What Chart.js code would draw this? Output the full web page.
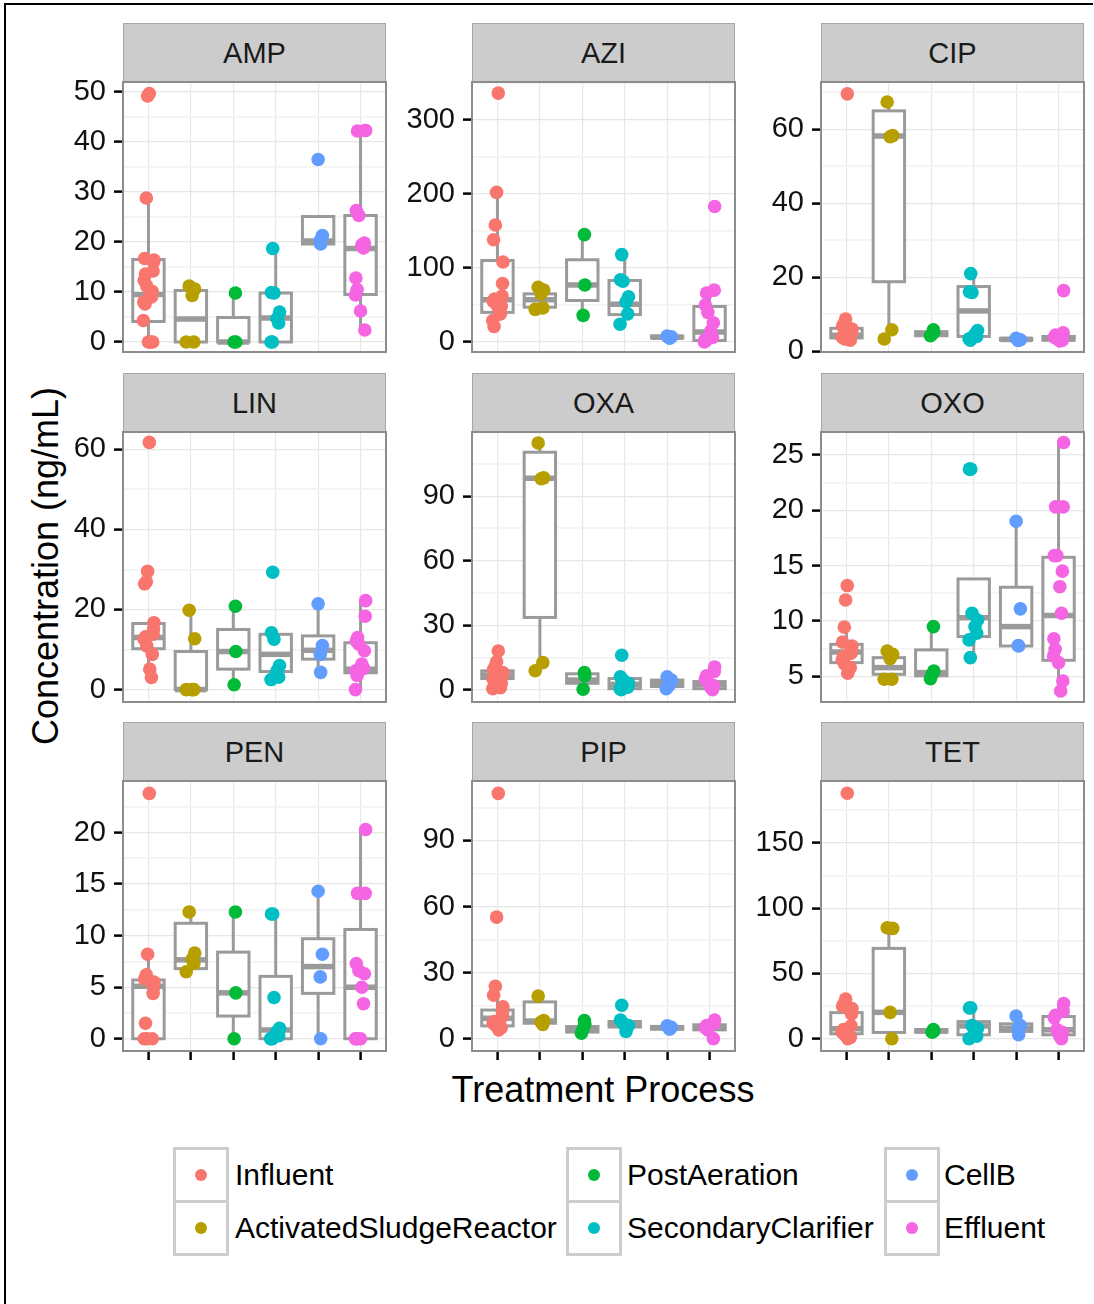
<!DOCTYPE html>
<html>
<head>
<meta charset="utf-8">
<script src="https://cdn.jsdelivr.net/npm/chart.js@4.4.1/dist/chart.umd.min.js"></script>
<style>
  html, body { margin: 0; padding: 0; background: #fff; }
  body { width: 1094px; height: 1304px; position: relative; overflow: hidden;
         font-family: "Liberation Sans", Arial, sans-serif; color: #111; }
  #frameTop { position: absolute; left: 4px; top: 3px; width: 1089px; height: 2px; background: #000; }
  #frameLeft { position: absolute; left: 4px; top: 3px; width: 2px; height: 1301px; background: #000; }
  .strip { position: absolute; background: #cccccc; border: 1px solid #a6a6a6; box-sizing: border-box;
           text-align: center; font-size: 29px; color: #1a1a1a; }
  canvas { position: absolute; }
  #ytitle { position: absolute; left: 46px; top: 566px; transform: translate(-50%, -50%) rotate(-90deg);
            white-space: nowrap; font-size: 36px; color: #000; }
  #xtitle { position: absolute; left: 603px; top: 1090px; transform: translate(-50%, -50%);
            white-space: nowrap; font-size: 36px; color: #000; }
  .key { position: absolute; width: 56px; height: 56px; box-sizing: border-box;
         border: 3px solid #cdcdcd; background: #fff; }
  .key span { position: absolute; left: 50%; top: 50%; width: 12px; height: 12px; margin: -6px 0 0 -6px;
              border-radius: 50%; }
  .ltext { position: absolute; font-size: 30px; color: #000; white-space: nowrap; transform: translateY(-50%); }
</style>
</head>
<body>
<div id="frameTop"></div>
<div id="frameLeft"></div>
<div id="ytitle">Concentration (ng/mL)</div>
<div id="xtitle">Treatment Process</div>
<div id="legend"></div>

<script>
// ---- data -------------------------------------------------------------
const PROCESSES = ['Influent', 'ActivatedSludgeReactor', 'PostAeration',
                   'SecondaryClarifier', 'CellB', 'Effluent'];
const ANTIBIOTICS = ['AMP', 'AZI', 'CIP', 'LIN', 'OXA', 'OXO', 'PEN', 'PIP', 'TET'];

// concentrations per process (ng/mL); box stats are [lower whisker, Q1, median, Q3, upper whisker]
const AMP_POINTS = [
  [49.7, 49.2, 28.8, 16.7, 16.4, 16.0, 14.2, 13.6, 12.3, 11.2, 10.1, 9.6, 9.0, 8.0, 7.6, 4.3, 0, 0, 0],
  [11.2, 10.6, 9.3, 0, 0],
  [9.8, 0, 0],
  [18.7, 9.9, 9.8, 6.0, 4.7, 3.8, 0, 0],
  [36.5, 21.3, 20.3, 19.6],
  [42.3, 42.3, 42.2, 26.3, 25.3, 19.8, 19.4, 18.8, 12.8, 10.5, 9.4, 6.2, 2.4]
];
const AMP_BOXES = [[0, 4.1, 9.5, 16.5, 28.8], [0, 0, 4.6, 10.3, 11.2], [0, 0, 0, 4.9, 9.8],
                   [0, 0, 4.8, 9.8, 18.7], [19.6, 19.6, 20.2, 25.1, 25.1], [2.4, 9.5, 18.7, 25.3, 42.3]];
const AMP_TICKS = [0, 10, 20, 30, 40, 50];
const AMP_RANGE = [-2, 52];

const AZI_POINTS = [
  [336, 202, 158, 138, 108, 79, 62, 58, 55, 52, 48, 45, 38, 29, 21],
  [74, 70, 65, 46, 44],
  [145, 77, 36],
  [118, 84, 82, 61, 54, 38, 24],
  [8, 7, 6, 5],
  [183, 70, 66, 50, 40, 26, 15, 6, 3, 2, 0]
];
const AZI_BOXES = [[21, 40, 57, 110, 202], [44, 47, 57, 65, 74], [36, 56, 77, 111, 145],
                   [24, 37, 51, 83, 118], [5, 5.5, 6.5, 8, 8], [0, 2, 13.5, 48, 70]];
const AZI_TICKS = [0, 100, 200, 300];
const AZI_RANGE = [-13.5, 351];

const CIP_POINTS = [
  [69.6, 8.7, 7.5, 6.8, 6.0, 5.3, 4.8, 4.2, 3.8, 3.3, 3.0],
  [67.4, 58.3, 58.0, 5.8, 3.3],
  [5.8, 5.2, 4.6, 4.2],
  [21.0, 16.1, 15.9, 5.6, 4.6, 4.0, 3.4, 3.0],
  [3.5, 3.1, 2.9],
  [16.4, 5.0, 4.4, 3.8, 3.4, 3.0, 2.8]
];
const CIP_BOXES = [[3, 3.6, 4.3, 6.2, 8.7], [3.3, 18.8, 58.2, 65, 67.4], [4.2, 4.2, 4.6, 5.3, 5.8],
                   [3, 4, 10.9, 17.5, 21], [2.9, 3.0, 3.2, 3.5, 3.5], [2.8, 3.0, 3.3, 4.0, 5.0]];
const CIP_TICKS = [0, 20, 40, 60];
const CIP_RANGE = [-0.2, 72.8];

const LIN_POINTS = [
  [61.7, 29.5, 26.9, 26.4, 16.7, 15.2, 13.8, 13.2, 12.6, 10.9, 8.8, 5.1, 3.0],
  [19.8, 12.7, 0, 0, 0],
  [20.8, 9.5, 1.2],
  [29.3, 14.2, 12.6, 6.0, 4.7, 3.1, 2.5],
  [21.4, 11.0, 8.8, 4.3],
  [22.2, 18.3, 13.0, 12.1, 11.3, 9.7, 6.4, 5.3, 4.7, 3.5, 0]
];
const LIN_BOXES = [[3, 10.2, 13, 16.5, 16.7], [0, 0, 0, 9.5, 19.8], [1.2, 5.1, 9.5, 15, 20.8],
                   [2.5, 4.5, 8.8, 13.8, 14.2], [4.3, 7.6, 9.8, 13.4, 21.4], [0, 4.2, 5.1, 11.7, 22.2]];
const LIN_TICKS = [0, 20, 40, 60];
const LIN_RANGE = [-3.1, 64.3];

const OXA_POINTS = [
  [18, 13, 11, 9.5, 8, 7, 6.5, 6, 5, 4, 3, 2, 1, 0.5],
  [114.7, 98.5, 98.1, 12.6, 8.8],
  [8, 6.5, 0.2],
  [16, 6, 4.5, 3, 2, 1.2, 0.5, 0],
  [6, 4.5, 3.5, 2.5, 1.5, 0.5],
  [10.6, 8.5, 6.5, 5, 3.5, 2, 1, 0]
];
const OXA_BOXES = [[0.5, 5.2, 6.8, 8.8, 13], [8.8, 33.6, 98.3, 110.4, 114.7], [0.2, 3, 4.5, 7.4, 8],
                   [0, 0.5, 2.5, 5.2, 5.5], [0.5, 1.5, 3, 4.5, 6], [0, 0.5, 2.5, 3.8, 10.6]];
const OXA_TICKS = [0, 30, 60, 90];
const OXA_RANGE = [-5.7, 119.8];

const OXO_POINTS = [
  [13.2, 11.9, 9.45, 8.1, 7.75, 7.4, 7.1, 6.8, 6.5, 6.1, 5.8, 5.3],
  [7.3, 7.0, 6.6, 4.75, 4.75],
  [9.5, 5.5, 5.2, 4.8],
  [23.7, 23.7, 10.7, 10.1, 9.5, 8.9, 8.3, 6.7],
  [19.0, 11.1, 7.8, 7.75],
  [26.1, 20.3, 20.3, 15.9, 15.9, 14.5, 13.1, 10.7, 8.4, 7.45, 6.85, 6.25, 4.6, 3.7]
];
const OXO_BOXES = [[5.3, 6.25, 7.2, 7.9, 9.45], [4.75, 5.2, 5.8, 6.7, 7.3], [4.75, 5.06, 5.35, 7.4, 9.5],
                   [6.7, 8.6, 10.3, 13.8, 13.8], [7.75, 7.75, 9.5, 13.05, 19.0], [3.7, 6.46, 10.5, 15.75, 26.1]];
const OXO_TICKS = [5, 10, 15, 20, 25];
const OXO_RANGE = [2.7, 27.05];

const PEN_POINTS = [
  [23.8, 8.2, 6.2, 5.8, 5.5, 5.0, 4.4, 1.5, 0, 0, 0],
  [12.3, 8.3, 7.7, 7.3, 6.5],
  [12.3, 4.45, 0],
  [12.1, 12.1, 4.0, 1.0, 0.7, 0.3, 0, 0, 0],
  [14.3, 8.2, 6.0, 0],
  [20.3, 14.1, 14.1, 7.3, 6.6, 6.3, 5.0, 3.4, 0, 0, 0, 0]
];
const PEN_BOXES = [[0, 0, 5.1, 5.7, 8.2], [6.4, 6.8, 7.65, 11.2, 12.3], [0, 2.2, 4.45, 8.4, 12.3],
                   [0, 0, 0.85, 6.05, 12.1], [0, 4.4, 7.0, 9.7, 14.3], [0, 0, 5.0, 10.6, 20.3]];
const PEN_TICKS = [0, 5, 10, 15, 20];
const PEN_RANGE = [-1.19, 25];

const PIP_POINTS = [
  [111.4, 55.2, 23.8, 19.7, 14.5, 12, 10, 7.8, 7, 6, 5, 4],
  [19.3, 8.2, 7.5, 6.5],
  [8.2, 6.5, 4.5, 2.5],
  [15.2, 8.5, 7, 6, 3.3],
  [5.8, 5.2, 4.8, 4.3],
  [8.5, 7, 6, 5, 4, 0]
];
const PIP_BOXES = [[4, 5.8, 9.3, 13, 19.7], [5.8, 7, 8, 16.7, 19.3], [2.5, 3, 4, 5.5, 8.2],
                   [3.3, 5.3, 6.3, 7.8, 8.5], [4.3, 4.3, 5, 5.5, 5.8], [0, 4, 5, 6.3, 8.5]];
const PIP_TICKS = [0, 30, 60, 90];
const PIP_RANGE = [-5.6, 117];

const TET_POINTS = [
  [188, 30.3, 27, 25, 23.2, 19, 9.8, 7, 5, 3, 1, 0],
  [85, 84.5, 20.2, 0],
  [7, 6, 5],
  [23.7, 23.5, 10, 8, 5, 2, 0],
  [17.4, 10, 8, 3],
  [27, 21, 18, 16, 7, 5, 2, 0]
];
const TET_BOXES = [[0, 3.8, 7.6, 20, 30.3], [0, 4.8, 20.2, 69.2, 85], [5, 5, 6, 7, 7],
                   [0, 3, 9.8, 13.1, 23.7], [3, 5.6, 8, 11.4, 17.4], [0, 3, 6.8, 17, 27]];
const TET_TICKS = [0, 50, 100, 150];
const TET_RANGE = [-9.4, 197.4];

const PANEL_DATA = {
  AMP: [AMP_POINTS, AMP_BOXES, AMP_TICKS, AMP_RANGE],
  AZI: [AZI_POINTS, AZI_BOXES, AZI_TICKS, AZI_RANGE],
  CIP: [CIP_POINTS, CIP_BOXES, CIP_TICKS, CIP_RANGE],
  LIN: [LIN_POINTS, LIN_BOXES, LIN_TICKS, LIN_RANGE],
  OXA: [OXA_POINTS, OXA_BOXES, OXA_TICKS, OXA_RANGE],
  OXO: [OXO_POINTS, OXO_BOXES, OXO_TICKS, OXO_RANGE],
  PEN: [PEN_POINTS, PEN_BOXES, PEN_TICKS, PEN_RANGE],
  PIP: [PIP_POINTS, PIP_BOXES, PIP_TICKS, PIP_RANGE],
  TET: [TET_POINTS, TET_BOXES, TET_TICKS, TET_RANGE]
};

// ---- styling / layout --------------------------------------------------
const COLORS = ['#F8766D', '#B79F00', '#00BA38', '#00BFC4', '#619CFF', '#F564E3'];
const FONT = '"Liberation Sans", Arial, sans-serif';
const JITTER = [0.02, -0.09, 0.11, -0.04, 0.07, -0.12, 0.05, -0.02, 0.13, -0.07,
                0.09, -0.11, 0.0, 0.06, -0.05, 0.12, -0.1, 0.03, -0.08, 0.1];
const COL_LEFT = [123, 472, 821];
const PANEL_W = 263;
const ROW_STRIP = [23, 373, 722];
const ROW_TOP = [82, 432, 781];
const PANEL_H = 270;
const AXIS_W = 115, PAD = 8;
const BOX_HALF = 0.37;
const BOX_COLOR = '#9a9a9a';

// boxes are drawn under the points, panel frame on top of everything
const boxPlugin = {
  id: 'boxes',
  beforeDatasetsDraw(chart, args, opts) {
    const { ctx, chartArea: a } = chart;
    const x = chart.scales.x, y = chart.scales.y;
    ctx.save();
    ctx.beginPath();
    ctx.rect(a.left, a.top, a.right - a.left, a.bottom - a.top);
    ctx.clip();
    ctx.strokeStyle = BOX_COLOR;
    ctx.lineCap = 'butt';
    ctx.lineJoin = 'miter';
    opts.stats.forEach((s, i) => {
      const [lo, q1, med, q3, hi] = s;
      const cx = x.getPixelForValue(i + 1);
      const hw = Math.abs(x.getPixelForValue(i + 1 + BOX_HALF) - cx);
      const yLo = y.getPixelForValue(lo), yQ1 = y.getPixelForValue(q1);
      const yMed = y.getPixelForValue(med), yQ3 = y.getPixelForValue(q3), yHi = y.getPixelForValue(hi);
      ctx.lineWidth = 3;
      ctx.beginPath();
      ctx.moveTo(cx, yHi); ctx.lineTo(cx, yQ3);
      ctx.moveTo(cx, yQ1); ctx.lineTo(cx, yLo);
      ctx.stroke();
      ctx.fillStyle = '#ffffff';
      ctx.fillRect(cx - hw, yQ3, 2 * hw, yQ1 - yQ3);
      ctx.strokeRect(cx - hw, yQ3, 2 * hw, yQ1 - yQ3);
      ctx.lineWidth = 5.5;
      ctx.beginPath();
      ctx.moveTo(cx - hw, yMed); ctx.lineTo(cx + hw, yMed);
      ctx.stroke();
    });
    ctx.restore();
  },
  afterDatasetsDraw(chart) {
    const { ctx, chartArea: a } = chart;
    ctx.save();
    ctx.strokeStyle = '#8c8c8c';
    ctx.lineWidth = 2;
    ctx.strokeRect(a.left, a.top, a.right - a.left, a.bottom - a.top);
    ctx.restore();
  }
};

function minorTicks(majors, range) {
  const step = majors[1] - majors[0];
  const out = [];
  const candidates = [majors[0] - step / 2];
  majors.forEach(m => candidates.push(m + step / 2));
  candidates.forEach(v => { if (v > range[0] && v < range[1]) out.push(v); });
  return out;
}

function noScalePadding(s) {
  s.paddingTop = 0; s.paddingBottom = 0; s.paddingLeft = 0; s.paddingRight = 0;
}

function makePanel(idx) {
  const name = ANTIBIOTICS[idx];
  const [points, boxes, majors, range] = PANEL_DATA[name];
  const col = idx % 3, row = Math.floor(idx / 3);
  const left = COL_LEFT[col], top = ROW_TOP[row];
  const xAxisH = row === 2 ? 14 : 0;

  const strip = document.createElement('div');
  strip.className = 'strip';
  strip.textContent = name;
  strip.style.left = left + 'px';
  strip.style.top = ROW_STRIP[row] + 'px';
  strip.style.width = PANEL_W + 'px';
  strip.style.height = (top - ROW_STRIP[row] + 1) + 'px';
  strip.style.lineHeight = (top - ROW_STRIP[row]) + 'px';
  document.body.appendChild(strip);

  const canvas = document.createElement('canvas');
  const w = AXIS_W + PANEL_W + PAD, h = PAD + PANEL_H + xAxisH + PAD;
  canvas.width = w; canvas.height = h;
  canvas.style.width = w + 'px'; canvas.style.height = h + 'px';
  canvas.style.left = (left - AXIS_W) + 'px';
  canvas.style.top = (top - PAD) + 'px';
  document.body.appendChild(canvas);

  const minors = minorTicks(majors, range);
  const allTicks = majors.concat(minors).sort((a, b) => a - b);
  const isMajor = v => majors.includes(v);

  new Chart(canvas, {
    type: 'scatter',
    data: {
      datasets: PROCESSES.map((p, ci) => ({
        label: p,
        data: points[ci].map((v, k) => ({ x: ci + 1 + JITTER[(k * 7 + ci * 3) % JITTER.length], y: v })),
        backgroundColor: COLORS[ci],
        borderWidth: 0,
        pointRadius: 6.8,
        pointHoverRadius: 6.8
      }))
    },
    options: {
      responsive: false,
      animation: false,
      events: [],
      layout: { autoPadding: false, padding: { left: 0, top: PAD, right: PAD, bottom: PAD } },
      plugins: { legend: { display: false }, tooltip: { enabled: false }, boxes: { stats: boxes } },
      scales: {
        x: {
          type: 'linear', min: 0.4, max: 6.6,
          afterBuildTicks: s => { s.ticks = PROCESSES.map((p, i) => ({ value: i + 1 })); },
          afterFit: s => { s.height = xAxisH; noScalePadding(s); },
          ticks: { display: false },
          border: { display: false },
          grid: { color: '#e8e8e8', lineWidth: 1.2, drawTicks: row === 2, tickLength: 9,
                  tickWidth: 2.5, tickColor: '#000' }
        },
        y: {
          type: 'linear', min: range[0], max: range[1],
          afterBuildTicks: s => { s.ticks = allTicks.map(v => ({ value: v })); },
          afterFit: s => { s.width = AXIS_W; noScalePadding(s); },
          ticks: {
            autoSkip: false, padding: 8, color: '#111',
            font: { family: FONT, size: 29 },
            callback: v => isMajor(v) ? String(v) : ''
          },
          border: { display: false },
          grid: {
            color: c => isMajor(c.tick.value) ? '#e6e6e6' : '#f3f3f3',
            lineWidth: c => isMajor(c.tick.value) ? 1.2 : 1.8,
            tickLength: 9, tickWidth: 2.5,
            tickColor: c => isMajor(c.tick.value) ? '#000' : 'rgba(0,0,0,0)'
          }
        }
      }
    },
    plugins: [boxPlugin]
  });
}

ANTIBIOTICS.forEach((a, i) => makePanel(i));

// legend: two rows by three columns of keys
const LEGEND_COL_KEY = [173, 566, 884];
const LEGEND_COL_TEXT = [235, 627, 944];
const LEGEND_ROW_TOP = [1147, 1200];
const legend = document.getElementById('legend');
PROCESSES.forEach((p, i) => {
  const col = Math.floor(i / 2), row = i % 2;
  const key = document.createElement('div');
  key.className = 'key';
  key.style.left = LEGEND_COL_KEY[col] + 'px';
  key.style.top = LEGEND_ROW_TOP[row] + 'px';
  const dot = document.createElement('span');
  dot.style.background = COLORS[i];
  key.appendChild(dot);
  legend.appendChild(key);
  const t = document.createElement('div');
  t.className = 'ltext';
  t.textContent = p;
  t.style.left = LEGEND_COL_TEXT[col] + 'px';
  t.style.top = (LEGEND_ROW_TOP[row] + 28) + 'px';
  legend.appendChild(t);
});
</script>
</body>
</html>
